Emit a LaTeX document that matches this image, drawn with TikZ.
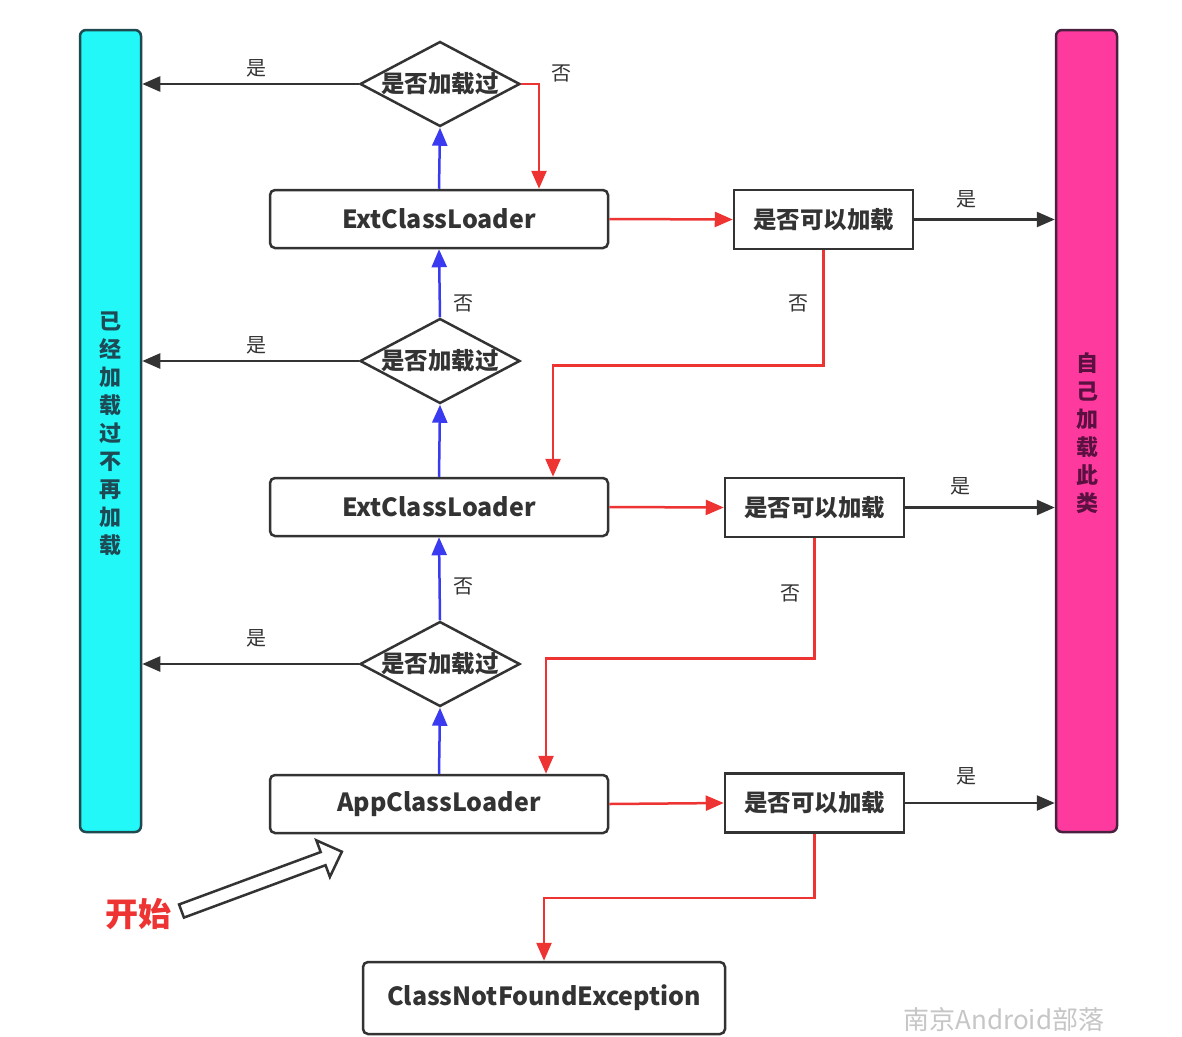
\documentclass[tikz,border=0pt]{standalone}
\usepackage{fontspec}
\setmainfont{Noto Sans CJK SC}
\usetikzlibrary{arrows.meta,shapes.geometric}
\definecolor{cyanbar}{HTML}{22F8F8}
\definecolor{cyanedge}{HTML}{1E4A50}
\definecolor{cyantext}{HTML}{1E4A55}
\definecolor{pinkbar}{HTML}{FF3A9E}
\definecolor{pinkedge}{HTML}{4A2040}
\definecolor{pinktext}{HTML}{5A1040}
\definecolor{ink}{HTML}{333333}
\definecolor{redl}{HTML}{EE3333}
\definecolor{bluel}{HTML}{3A3AF0}
\begin{document}
\begin{tikzpicture}[x=1pt,y=-1pt,
 arrowtip/.style={-{Triangle[length=18pt,width=15pt]}},
 loader/.style={draw=ink, fill=white, line width=2.5pt, rounded corners=5pt, minimum width=338pt, minimum height=58pt, inner sep=0pt, font=\bfseries\fontsize{25}{25}\selectfont, text=ink},
 check/.style={draw=ink, fill=white, line width=2.5pt, minimum width=179pt, minimum height=59pt, inner sep=0pt, font=\bfseries\fontsize{23.5}{23.5}\selectfont, text=ink},
 dia/.style={diamond, draw=ink, fill=white, line width=2.5pt, aspect=1.88, inner sep=0pt, minimum width=160pt, minimum height=85pt},
 diatext/.style={font=\bfseries\fontsize{23.5}{23.5}\selectfont, text=ink, inner sep=0pt},
 yesline/.style={ink, line width=2.5pt, arrowtip},
 noline/.style={redl, line width=2.5pt, arrowtip},
 upline/.style={bluel, line width=2.5pt, arrowtip},
 lbl/.style={font=\fontsize{20}{20}\selectfont, text=ink},
 bar/.style={line width=2.5pt, rounded corners=6pt, minimum width=61pt, minimum height=802pt},
 bartext/.style={align=center, font=\bfseries\fontsize{22}{28}\selectfont},
]
\useasboundingbox (0,0) rectangle (1182,1036);
\fill[white] (0,0) rectangle (1182,1036);
\clip (0,0) rectangle (1182,1036);

% side bars
\node[bar, draw=cyanedge, fill=cyanbar] (lbar) at (110.5,431) {};
\node[bartext, text=cyantext] (ltext) at (110.5,434) {已\\经\\加\\载\\过\\不\\再\\加\\载};
\node[bar, draw=pinkedge, fill=pinkbar] (rbar) at (1086.5,431) {};
\node[bartext, text=pinktext] (rtext) at (1087,433.5) {自\\己\\加\\载\\此\\类};

% loaders
\node[loader] (ext1) at (439,219) {ExtClassLoader};
\node[loader] (ext2) at (439,507) {ExtClassLoader};
\node[loader] (app) at (439,804) {AppClassLoader};
\node[loader, minimum width=362pt, minimum height=72pt] (cnf) at (544,998) {ClassNotFoundException};

% checks
\node[check] (c1) at (823.5,219.5) {是否可以加载};
\node[check] (c2) at (814.5,507.5) {是否可以加载};
\node[check] (c3) at (814.5,803) {是否可以加载};

% diamonds
\node[dia] (d1) at (440,84) {};
\node[diatext] (d1t) at (d1.center) {是否加载过};
\node[dia] (d2) at (440,361) {};
\node[diatext] (d2t) at (d2.center) {是否加载过};
\node[dia] (d3) at (440,664) {};
\node[diatext] (d3t) at (d3.center) {是否加载过};

% already loaded -> left bar
\draw[yesline] (d1.west) -- (lbar.east |- d1.west);
\draw[yesline] (d2.west) -- (lbar.east |- d2.west);
\draw[yesline] (d3.west) -- (lbar.east |- d3.west);
\node[lbl] (y1) at (256,68) {是};
\node[lbl] (y2) at (256,345) {是};
\node[lbl] (y3) at (256,638) {是};

% delegation upwards
\draw[upline] (app.north) -- (d3.south);
\draw[upline] (d3.north) -- (ext2.south);
\draw[upline] (ext2.north) -- (d2.south);
\draw[upline] (d2.north) -- (ext1.south);
\draw[upline] (ext1.north) -- (d1.south);
\node[lbl] (n2) at (463,303) {否};
\node[lbl] (n3) at (463,586) {否};

% top "no"
\draw[noline] (d1.east) -| ([xshift=100pt]ext1.north);
\node[lbl] (n1) at (561,73) {否};

% loaders -> checks
\draw[noline] (ext1.east) -- (c1.west);
\draw[noline] (ext2.east) -- (c2.west);
\draw[noline] (app.east) -- (c3.west);

% checks -> right bar
\draw[yesline] (c1.east) -- (rbar.west |- c1.east);
\draw[yesline] (c2.east) -- (rbar.west |- c2.east);
\draw[yesline] (c3.east) -- (rbar.west |- c3.east);
\node[lbl] (y4) at (966,199) {是};
\node[lbl] (y5) at (960,486) {是};
\node[lbl] (y6) at (966,776) {是};

% checks "no" downwards
\draw[noline] (c1.south) -- ++(0,115) -| ([xshift=114pt]ext2.north);
\draw[noline] (c2.south) -- ++(0,120) -| ([xshift=107pt]app.north);
\draw[noline] (c3.south) -- ++(0,64) -| (cnf.north);
\node[lbl] (n4) at (798,303) {否};
\node[lbl] (n5) at (790,593) {否};

% start arrow
\begin{scope}[shift={(181.5,911)}, rotate=20.3]
\draw[ink, fill=white, line width=2.5pt, line join=miter]
  (0,-7) -- (151,-7) -- (151,-19.5) -- (171,0) -- (151,19.5) -- (151,7) -- (0,7) -- cycle;
\end{scope}
\node[text=redl, font=\bfseries\fontsize{33}{33}\selectfont] (start) at (138,914) {开始};

% watermark
\node[text=gray!45, font=\fontsize{26}{26}\selectfont, anchor=base west] (wm) at (900,1029) {南京Android部落};
\end{tikzpicture}
\end{document}
